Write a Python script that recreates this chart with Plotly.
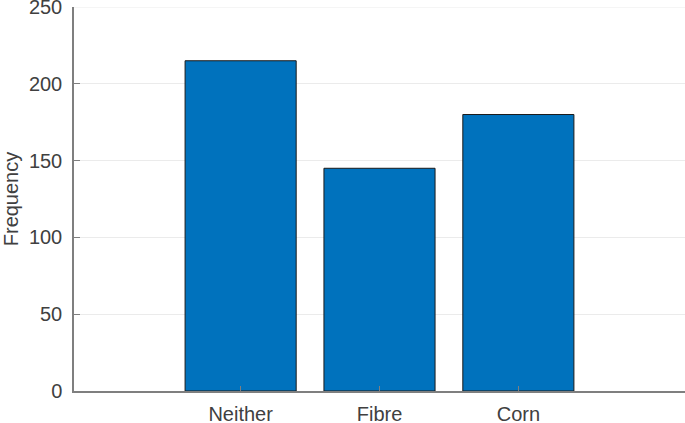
import plotly.graph_objects as go

categories = ["Neither", "Fibre", "Corn"]
frequency = [215, 145, 180]
y_ticks = [0, 50, 100, 150, 200, 250]

fig = go.Figure()
fig.add_trace(go.Bar(
    x=categories, y=frequency, width=0.8,
    marker=dict(color="#0072BD", line=dict(color="#1a1a1a", width=1)),
))

font = dict(family="Liberation Sans, Arial, sans-serif", size=20, color="#404040")
fig.update_layout(
    width=685, height=423,
    margin=dict(l=74, r=0, t=7, b=32),
    paper_bgcolor="white", plot_bgcolor="white",
    showlegend=False, font=font,
    bargap=0.2,
)
# top grid line (plotly drops grid lines on the plot edge)
fig.add_shape(type="line", xref="paper", x0=0, x1=1, yref="y",
              y0=y_ticks[-1], y1=y_ticks[-1], line=dict(color="#ebebeb", width=1),
              layer="below")
fig.update_xaxes(
    type="category", range=[-1.2, 3.2], automargin=False,
    showline=True, linecolor="#7f7f7f", linewidth=1.5,
    ticks="inside", ticklen=5, tickcolor="#7f7f7f",
    showgrid=False, zeroline=False, tickfont=dict(size=20),
    ticklabelstandoff=4, ticklabeloverflow="allow",
)
fig.update_yaxes(
    range=[0, 250], tickvals=y_ticks, automargin=False,
    showline=True, linecolor="#7f7f7f", linewidth=1.5,
    ticks="inside", ticklen=6, tickcolor="#7f7f7f",
    showgrid=True, gridcolor="#ebebeb", gridwidth=1, zeroline=False,
    title=dict(text="Frequency", standoff=6, font=dict(size=20)),
    ticklabelstandoff=6, ticklabeloverflow="allow",
)
fig.write_html("out.html", config={"displayModeBar": False},
               post_script="document.body.style.margin='0';document.body.style.overflow='hidden';")
